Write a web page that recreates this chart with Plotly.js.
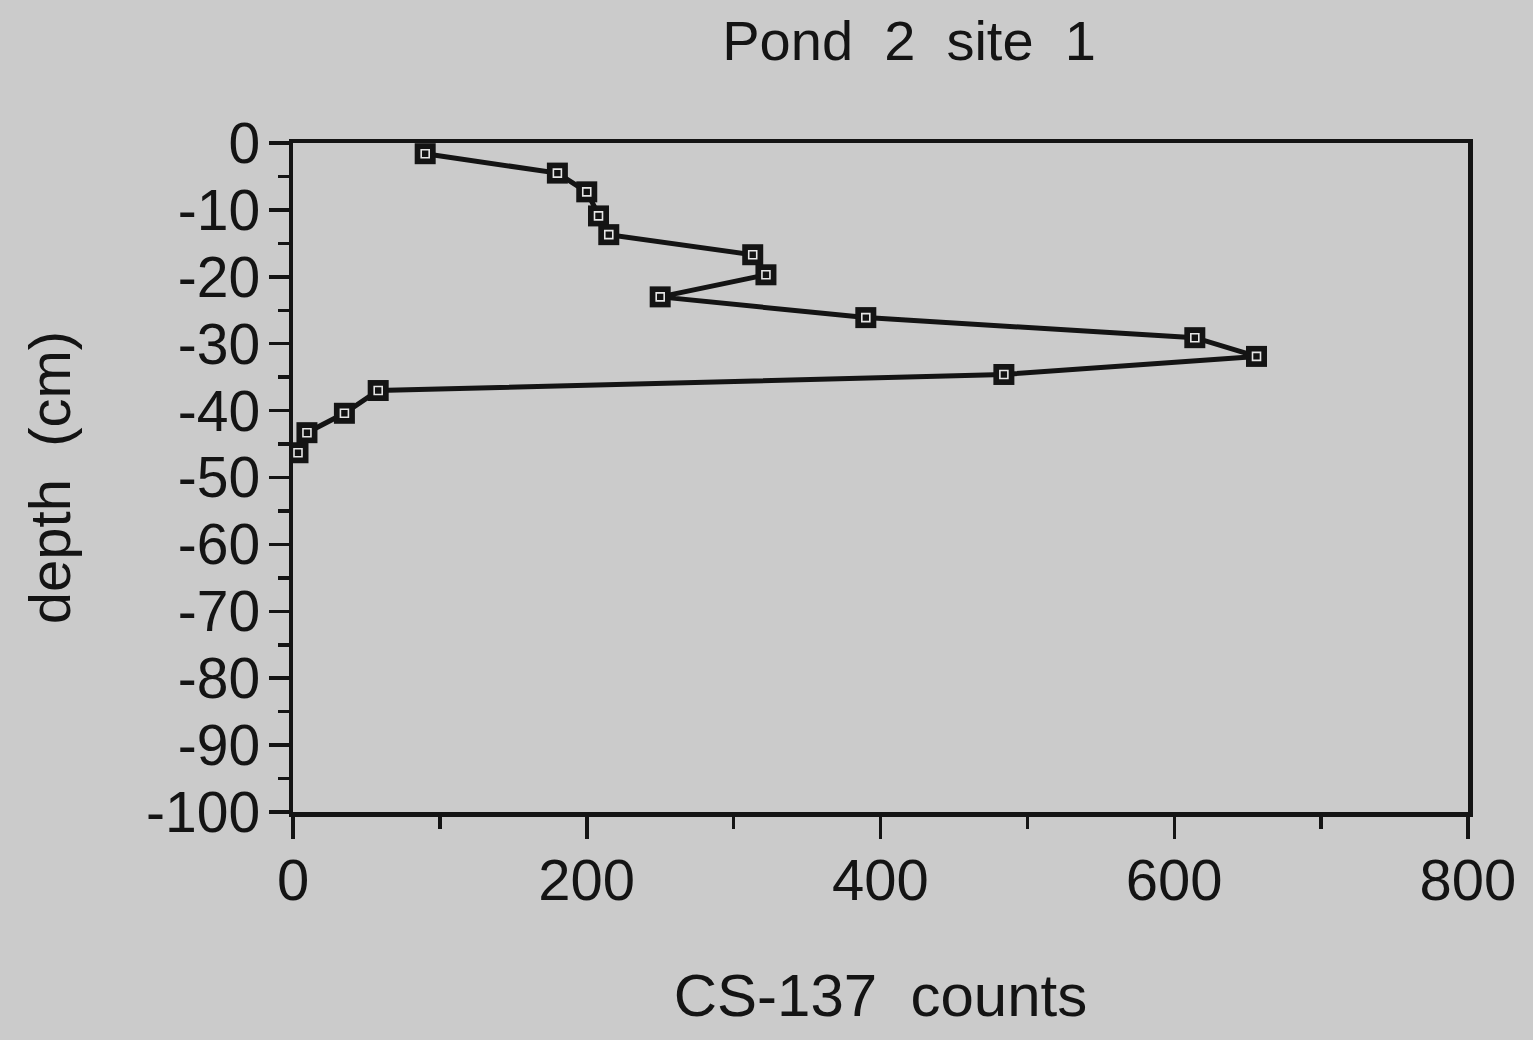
<!DOCTYPE html>
<html>
<head>
<meta charset="utf-8">
<script src="https://cdn.plot.ly/plotly-3.0.1.min.js"></script>
<style>html,body{margin:0;padding:0;background:#cbcbcb;}#chart{width:1533px;height:1040px;}</style>
</head>
<body>
<div id="chart"></div>
<script>
const counts = [90, 180, 200, 208, 215, 313, 322, 250, 390, 614, 656, 484, 58, 35, 9.5, 3.4];
const depths = [-1.6, -4.5, -7.3, -10.9, -13.7, -16.7, -19.7, -23.0, -26.1, -29.1, -31.9, -34.6, -37.0, -40.4, -43.3, -46.3];
const yTickVals = [0, -10, -20, -30, -40, -50, -60, -70, -80, -90, -100];
const yTickText = ["0", "-10", "-20", "-30", "-40", "-50", "-60", "-70", "-80", "-90", "-100"];
const xTickVals = [0, 200, 400, 600, 800];
const xTickText = ["0", "200", "400", "600", "800"];

const ink = '#141414';
const fontFam = '"Liberation Sans", Arial, Helvetica, sans-serif';

const traces = [
  {
    x: counts, y: depths, type: 'scatter', mode: 'lines+markers',
    line: {color: ink, width: 5},
    marker: {symbol: 'square', size: 21, color: ink},
    hoverinfo: 'skip', showlegend: false
  },
  {
    x: counts, y: depths, type: 'scatter', mode: 'markers',
    marker: {symbol: 'square-open', size: 8, color: '#e6e6e6', line: {color: '#e6e6e6', width: 1.6}},
    hoverinfo: 'skip', showlegend: false
  }
];

const layout = {
  width: 1533, height: 1040,
  paper_bgcolor: '#cbcbcb', plot_bgcolor: '#cbcbcb',
  margin: {l: 293, r: 65, t: 143, b: 228},
  font: {family: fontFam, color: ink},
  title: {text: 'Pond\u00a0 2\u00a0 site\u00a0 1', font: {size: 56, color: ink, family: fontFam}, x: 0.593, xanchor: 'center', y: 0.961, yanchor: 'middle'},
  xaxis: {
    range: [0, 800], tickmode: 'array', tickvals: xTickVals, ticktext: xTickText,
    showgrid: false, zeroline: false, showline: true, linecolor: ink, linewidth: 4.5, mirror: true,
    ticks: 'outside', ticklen: 22, tickwidth: 3.5, tickcolor: ink,
    minor: {dtick: 100, ticks: 'outside', ticklen: 12, tickwidth: 3.5, tickcolor: ink, showgrid: false},
    tickfont: {size: 58, color: ink}, ticklabelstandoff: -8,
    title: {text: 'CS-137\u00a0 counts', font: {size: 60, color: ink}, standoff: 64}
  },
  yaxis: {
    range: [-100, 0], tickmode: 'array', tickvals: yTickVals, ticktext: yTickText,
    showgrid: false, zeroline: false, showline: true, linecolor: ink, linewidth: 4.5, mirror: true,
    ticks: 'outside', ticklen: 20, tickwidth: 3.5, tickcolor: ink,
    minor: {dtick: 5, ticks: 'outside', ticklen: 11, tickwidth: 3.5, tickcolor: ink, showgrid: false},
    tickfont: {size: 57, color: ink}, ticklabelstandoff: -3,
    title: {text: 'depth\u00a0 (cm)', font: {size: 58, color: ink}, standoff: 58}
  }
};

Plotly.newPlot('chart', traces, layout, {staticPlot: true, displayModeBar: false});
</script>
</body>
</html>
